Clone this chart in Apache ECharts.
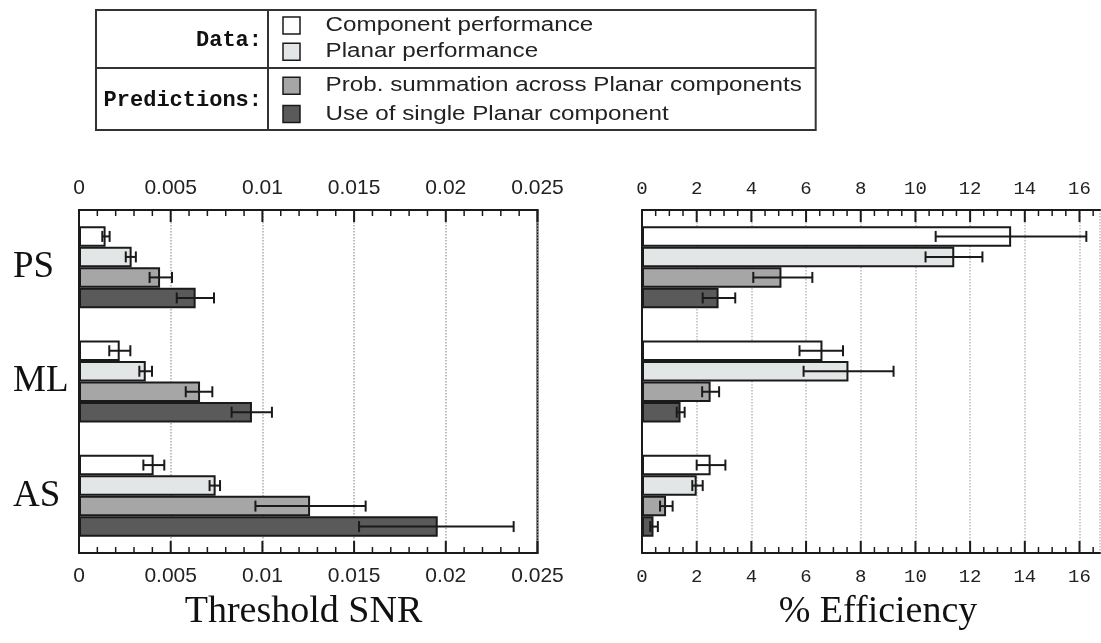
<!DOCTYPE html>
<html>
<head>
<meta charset="utf-8">
<script src="https://cdn.jsdelivr.net/npm/echarts@6/dist/echarts.min.js"></script>
<style>
html,body{margin:0;padding:0;background:#fff;}
#wrap{position:relative;width:1101px;height:643px;}
#chart,#overlay{position:absolute;left:0;top:0;width:1101px;height:643px;}
#overlay{pointer-events:none;}
</style>
</head>
<body>
<div id="wrap"><div id="chart"></div><div id="overlay"></div></div>
<script>
// ---------- data ----------
const categories = ['PS', 'ML', 'AS'];
const seriesNames = ['Component performance', 'Planar performance',
  'Prob. summation across Planar components', 'Use of single Planar component'];

// Threshold SNR (left panel)
const snrComponent   = [0.00145, 0.00222, 0.00407];
const snrComponentLo = [0.00127, 0.00165, 0.00351];
const snrComponentHi = [0.00167, 0.00280, 0.00465];
const snrPlanar      = [0.00287, 0.00364, 0.00745];
const snrPlanarLo    = [0.00255, 0.00329, 0.00712];
const snrPlanarHi    = [0.00310, 0.00398, 0.00769];
const snrProb        = [0.00442, 0.00660, 0.01260];
const snrProbLo      = [0.00385, 0.00582, 0.00962];
const snrProbHi      = [0.00507, 0.00727, 0.01563];
const snrSingle      = [0.00636, 0.00943, 0.01956];
const snrSingleLo    = [0.00533, 0.00832, 0.01527];
const snrSingleHi    = [0.00736, 0.01052, 0.02370];

// % Efficiency (right panel)
const effComponent   = [13.50, 6.60, 2.51];
const effComponentLo = [10.74, 5.76, 2.00];
const effComponentHi = [16.25, 7.35, 3.05];
const effPlanar      = [11.42, 7.55, 2.00];
const effPlanarLo    = [10.37, 5.91, 1.84];
const effPlanarHi    = [12.45, 9.20, 2.22];
const effProb        = [5.10, 2.51, 0.88];
const effProbLo      = [4.07, 2.20, 0.66];
const effProbHi      = [6.23, 2.82, 1.12];
const effSingle      = [2.80, 1.41, 0.42];
const effSingleLo    = [2.22, 1.27, 0.30];
const effSingleHi    = [3.41, 1.56, 0.58];

// tick values
const snrMajorTicks = [0, 0.005, 0.01, 0.015, 0.02, 0.025];
const effMajorTicks = [0, 2, 4, 6, 8, 10, 12, 14, 16];
const snrMinorStep = 0.001;
const effMinorStep = 0.5;

// ---------- styling ----------
const fills = ['#ffffff', '#e3e6e6', '#a6a6a6', '#5a5a5a'];
const BAR_W = 20.5;
const ink = '#1a1a1a';

const leftVals = [snrComponent, snrPlanar, snrProb, snrSingle];
const leftLo = [snrComponentLo, snrPlanarLo, snrProbLo, snrSingleLo];
const leftHi = [snrComponentHi, snrPlanarHi, snrProbHi, snrSingleHi];
const rightVals = [effComponent, effPlanar, effProb, effSingle];
const rightLo = [effComponentLo, effPlanarLo, effProbLo, effSingleLo];
const rightHi = [effComponentHi, effPlanarHi, effProbHi, effSingleHi];

function barSeries(vals, i, axisIdx) {
  return {
    type: 'bar', name: seriesNames[i],
    xAxisIndex: axisIdx, yAxisIndex: axisIdx === 0 ? 0 : 1,
    data: vals, barWidth: BAR_W, barGap: '0%',
    itemStyle: { color: fills[i], borderColor: ink, borderWidth: 2 },
    silent: true, z: 3
  };
}
function errSeries(lo, hi, i, axisIdx) {
  const offset = (i - 1.5) * BAR_W;
  return {
    type: 'custom', name: seriesNames[i] + ' err',
    xAxisIndex: axisIdx, yAxisIndex: axisIdx === 0 ? 0 : 1,
    data: categories.map((c, k) => [lo[k], hi[k], c]),
    encode: { x: [0, 1], y: 2 },
    z: 5, silent: true,
    renderItem: function (params, api) {
      const cat = api.value(2);
      const p1 = api.coord([api.value(0), cat]);
      const p2 = api.coord([api.value(1), cat]);
      const y = p1[1] + offset;
      const cap = 5.5;
      const st = { stroke: ink, lineWidth: 2 };
      return { type: 'group', children: [
        { type: 'line', shape: { x1: p1[0], y1: y, x2: p2[0], y2: y }, style: st },
        { type: 'line', shape: { x1: p1[0], y1: y - cap, x2: p1[0], y2: y + cap }, style: st },
        { type: 'line', shape: { x1: p2[0], y1: y - cap, x2: p2[0], y2: y + cap }, style: st }
      ]};
    }
  };
}
// inward tick marks on top and bottom frame, placed through the value axis scale
function tickSeries(values, axisIdx, len, width) {
  return {
    type: 'custom', name: 'ticks',
    xAxisIndex: axisIdx, yAxisIndex: axisIdx === 0 ? 0 : 1,
    data: values.map(v => [v, categories[0]]),
    encode: { x: 0, y: 1 },
    z: 6, silent: true, clip: false,
    renderItem: function (params, api) {
      const p = api.coord([api.value(0), 0]);
      const cs = params.coordSys;
      const top = cs.y, bot = cs.y + cs.height;
      const st = { stroke: ink, lineWidth: width };
      return { type: 'group', children: [
        { type: 'line', shape: { x1: p[0], y1: top, x2: p[0], y2: top + len }, style: st },
        { type: 'line', shape: { x1: p[0], y1: bot, x2: p[0], y2: bot - len }, style: st }
      ]};
    }
  };
}
function minorValues(majors, step, maxVal) {
  const out = [];
  const n = Math.round(maxVal / step);
  for (let k = 0; k <= n; k++) {
    const v = +(k * step).toFixed(6);
    if (!majors.some(m => Math.abs(m - v) < step / 10)) out.push(v);
  }
  return out;
}

function valueAxis(gridIndex, pos, max, interval, labelFont, labelSize, margin, grid, gridColor, showMax) {
  return {
    type: 'value', gridIndex: gridIndex, position: pos,
    min: 0, max: max, interval: interval,
    axisLine: { show: true, onZero: false, lineStyle: { color: ink, width: 2 } },
    axisTick: { show: false },
    minorTick: { show: false },
    axisLabel: { show: true, fontFamily: labelFont, fontSize: labelSize, color: '#222', margin: margin,
      showMaxLabel: showMax },
    splitLine: { show: grid, lineStyle: { type: 'dotted', color: gridColor, width: 1.5 } }
  };
}

const series = [];
for (let i = 0; i < 4; i++) series.push(barSeries(leftVals[i], i, 0));
for (let i = 0; i < 4; i++) series.push(barSeries(rightVals[i], i, 2));
for (let i = 0; i < 4; i++) series.push(errSeries(leftLo[i], leftHi[i], i, 0));
for (let i = 0; i < 4; i++) series.push(errSeries(rightLo[i], rightHi[i], i, 2));
series.push(tickSeries(snrMajorTicks, 0, 12, 2));
series.push(tickSeries(minorValues(snrMajorTicks, snrMinorStep, 0.025), 0, 6, 1.5));
series.push(tickSeries(effMajorTicks, 2, 12, 2));
series.push(tickSeries(minorValues(effMajorTicks, effMinorStep, 16.5), 2, 6, 1.5));

// legend box + titles (overlay chart)
const boxL = 96, boxR = 815.7, boxT = 10, boxB = 130, boxM = 68, boxV = 268;
const swY = [25.5, 51.7, 85.7, 114];
const graphics = [
  { type: 'rect', shape: { x: boxL, y: boxT, width: boxR - boxL, height: boxB - boxT },
    style: { fill: 'none', stroke: '#333', lineWidth: 2 } },
  { type: 'line', shape: { x1: boxL, y1: boxM, x2: boxR, y2: boxM }, style: { stroke: '#333', lineWidth: 2 } },
  { type: 'line', shape: { x1: boxV, y1: boxT, x2: boxV, y2: boxB }, style: { stroke: '#333', lineWidth: 2 } },
  { type: 'text', x: 262, y: 40, style: { text: 'Data:', font: 'bold 22px "Liberation Mono", monospace',
      fill: '#111', textAlign: 'right', align: 'right', textVerticalAlign: 'middle', verticalAlign: 'middle' } },
  { type: 'text', x: 262, y: 100, style: { text: 'Predictions:', font: 'bold 22px "Liberation Mono", monospace',
      fill: '#111', textAlign: 'right', align: 'right', textVerticalAlign: 'middle', verticalAlign: 'middle' } },
  { type: 'text', x: 303.5, y: 612, style: { text: 'Threshold SNR', font: '38px "Liberation Serif", serif',
      fill: '#111', textAlign: 'center', align: 'center', textVerticalAlign: 'middle', verticalAlign: 'middle' } },
  { type: 'text', x: 878, y: 612, style: { text: '% Efficiency', font: '38px "Liberation Serif", serif',
      fill: '#111', textAlign: 'center', align: 'center', textVerticalAlign: 'middle', verticalAlign: 'middle' } }
];
for (let i = 0; i < 4; i++) {
  graphics.push({ type: 'rect', shape: { x: 283, y: swY[i] - 8.5, width: 17, height: 17 },
    style: { fill: fills[i], stroke: ink, lineWidth: 1.5 } });
  graphics.push({ type: 'text', x: 325.6, y: swY[i], scaleX: 1.21,
    style: { text: seriesNames[i], font: '20px "Liberation Sans", Arial, sans-serif', fill: '#222',
      textAlign: 'left', align: 'left', textVerticalAlign: 'middle', verticalAlign: 'middle' } });
}

const option = {
  animation: false,
  backgroundColor: '#fff',
  grid: [
    { left: 79, right: 563.5, top: 210, bottom: 90, show: true, borderColor: ink, borderWidth: 2 },
    { left: 642, right: 1, top: 210, bottom: 90, show: false }
  ],
  xAxis: [
    valueAxis(0, 'bottom', 0.025, 0.005, '"Liberation Sans", Arial, sans-serif', 21, 13, true, '#aaa', true),
    valueAxis(0, 'top', 0.025, 0.005, '"Liberation Sans", Arial, sans-serif', 21, 11, false, '#aaa', true),
    valueAxis(1, 'bottom', 16.75, 2, '"Liberation Mono", monospace', 19, 14, true, '#bbb', false),
    valueAxis(1, 'top', 16.75, 2, '"Liberation Mono", monospace', 19, 12, false, '#bbb', false)
  ],
  yAxis: [
    { type: 'category', gridIndex: 0, data: categories, inverse: true,
      axisLine: { show: true, onZero: false, lineStyle: { color: ink, width: 2 } }, axisTick: { show: false },
      axisLabel: { fontFamily: '"Liberation Serif", serif', fontSize: 37, color: '#111', margin: 66, align: 'left' } },
    { type: 'category', gridIndex: 1, data: categories, inverse: true,
      axisLine: { show: true, onZero: false, lineStyle: { color: ink, width: 2 } }, axisTick: { show: false },
      axisLabel: { show: false } }
  ],
  series: series
};

const chart = echarts.init(document.getElementById('chart'), null, { renderer: 'canvas' });
chart.setOption(option);

const overlay = echarts.init(document.getElementById('overlay'), null, { renderer: 'canvas' });
overlay.setOption({ animation: false, backgroundColor: 'transparent', graphic: graphics });
</script>
</body>
</html>
